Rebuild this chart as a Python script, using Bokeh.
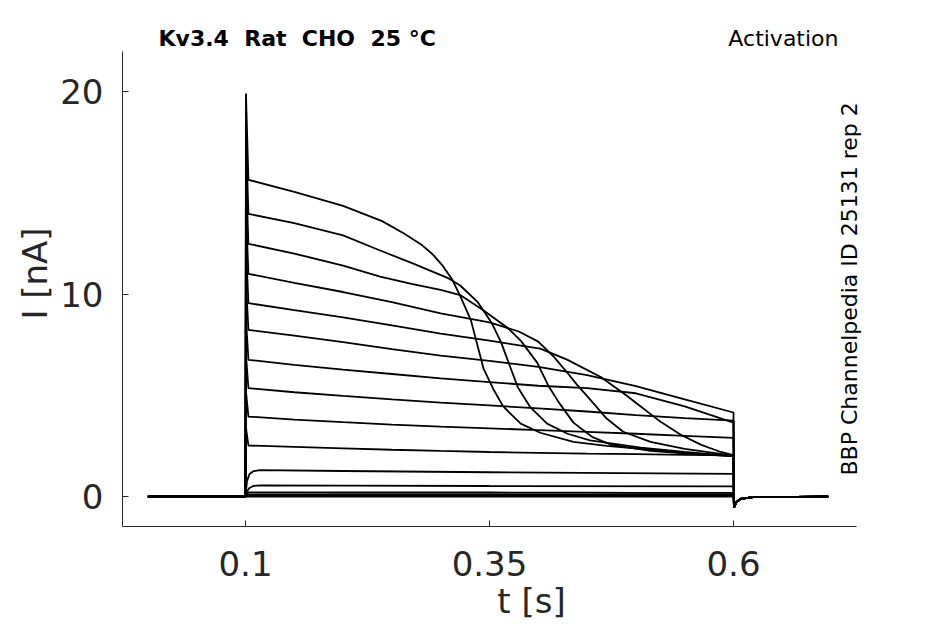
from bokeh.plotting import figure
from bokeh.models import Label, FixedTicker, Range1d
from bokeh.embed import file_html
from bokeh.resources import INLINE

# ---------------- data ----------------
x_ticks = [0.1, 0.35, 0.6]
x_tick_labels = ["0.1", "0.35", "0.6"]
y_ticks = [0, 10, 20]
y_tick_labels = ["0", "10", "20"]

title_left = "Kv3.4\u00a0 Rat\u00a0 CHO\u00a0 25 \u00b0C"
title_right = "Activation"
side_note = "BBP Channelpedia ID 25131 rep 2"
x_label = "t [s]"
y_label = "I [nA]"

t_hold = [0.0, 0.1]
i_hold = [0.0, 0.0]
t_spike = 0.1005
t_tail = [0.6005, 0.6025, 0.607, 0.62, 0.697]
i_tail = [-0.55, -0.3, -0.12, -0.03, 0.0]

t_g = [0.103, 0.15, 0.2, 0.25, 0.3, 0.35, 0.4, 0.45, 0.5, 0.55, 0.6]

# near-zero sweeps
i_z1 = [0.0, 0.0, 0.0, 0.0, 0.0, 0.0, 0.0, 0.0, 0.0, 0.0, 0.0]
i_z2 = [0.04, 0.04, 0.04, 0.04, 0.04, 0.04, 0.04, 0.04, 0.04, 0.04, 0.04]
i_z3 = [0.1, 0.1, 0.1, 0.1, 0.1, 0.1, 0.1, 0.1, 0.1, 0.1, 0.1]
i_z4 = [0.21, 0.21, 0.2, 0.2, 0.2, 0.2, 0.19, 0.19, 0.18, 0.18, 0.18]

# small sweeps with slow rise
t_r1 = [0.1015, 0.104, 0.108, 0.115, 0.2, 0.35, 0.6]
i_r1 = [0.25, 0.42, 0.52, 0.55, 0.54, 0.52, 0.5]
t_r2 = [0.1015, 0.104, 0.108, 0.115, 0.2, 0.35, 0.6]
i_r2 = [0.75, 1.1, 1.25, 1.3, 1.26, 1.2, 1.12]

# non-inactivating (slowly decaying) sweeps
i_g1 = [2.52, 2.45, 2.38, 2.31, 2.25, 2.2, 2.16, 2.12, 2.09, 2.06, 2.03]
i_g2 = [3.95, 3.8, 3.67, 3.55, 3.45, 3.37, 3.28, 3.19, 3.1, 3.0, 2.9]
i_g3 = [5.35, 5.15, 4.97, 4.8, 4.64, 4.5, 4.35, 4.2, 4.02, 3.87, 3.75]
i_g4 = [6.75, 6.5, 6.27, 6.05, 5.83, 5.65, 5.47, 5.35, 5.1, 4.45, 3.65]
i_g5 = [8.23, 7.95, 7.62, 7.28, 6.96, 6.7, 6.4, 6.0, 5.45, 4.8, 4.15]

# inactivating sweeps
t_s5 = [0.103, 0.15, 0.2, 0.25, 0.3, 0.35, 0.402, 0.43, 0.464, 0.49, 0.505, 0.525, 0.546, 0.567, 0.587, 0.6]
i_s5 = [9.55, 9.2, 8.85, 8.45, 8.05, 7.7, 7.3, 6.75, 5.9, 5.0, 4.45, 3.7, 3.05, 2.55, 2.2, 2.05]
t_s4 = [0.103, 0.15, 0.2, 0.25, 0.3, 0.35, 0.38, 0.4, 0.416, 0.43, 0.44, 0.453, 0.47, 0.487, 0.515, 0.55, 0.6]
i_s4 = [11.0, 10.55, 10.1, 9.6, 9.05, 8.6, 8.15, 7.65, 6.9, 6.1, 5.5, 4.8, 3.85, 3.2, 2.7, 2.35, 2.02]
t_s3 = [0.103, 0.15, 0.2, 0.238, 0.27, 0.3, 0.32, 0.344, 0.368, 0.382, 0.399, 0.41, 0.421, 0.436, 0.455, 0.475, 0.515, 0.56, 0.6]
i_s3 = [12.48, 12.0, 11.4, 10.86, 10.5, 10.2, 9.95, 9.19, 8.35, 7.7, 6.6, 5.5, 4.65, 3.65, 2.95, 2.55, 2.25, 2.1, 2.0]
t_s2 = [0.103, 0.15, 0.2, 0.238, 0.272, 0.307, 0.32, 0.338, 0.352, 0.362, 0.372, 0.379, 0.392, 0.409, 0.43, 0.453, 0.505, 0.55, 0.6]
i_s2 = [13.96, 13.5, 12.9, 12.15, 11.5, 10.8, 10.42, 9.6, 8.6, 7.6, 6.3, 5.4, 4.4, 3.6, 3.1, 2.77, 2.42, 2.2, 2.0]
t_s1 = [0.103, 0.15, 0.2, 0.24, 0.262, 0.28, 0.292, 0.302, 0.312, 0.321, 0.331, 0.344, 0.354, 0.364, 0.382, 0.402, 0.436, 0.47, 0.505, 0.55, 0.6]
i_s1 = [15.64, 15.05, 14.35, 13.6, 13.0, 12.45, 11.95, 11.4, 10.7, 9.8, 8.7, 6.3, 5.3, 4.45, 3.6, 3.15, 2.7, 2.5, 2.35, 2.15, 2.0]

# spike peaks at step onset (None = no spike)
sweeps = [
    (None, t_g, i_z1), (None, t_g, i_z2), (None, t_g, i_z3), (None, t_g, i_z4),
    (None, t_r1, i_r1), (None, t_r2, i_r2),
    (3.4, t_g, i_g1), (5.2, t_g, i_g2), (7.0, t_g, i_g3), (8.8, t_g, i_g4), (10.6, t_g, i_g5),
    (12.4, t_s5, i_s5), (14.2, t_s4, i_s4), (16.0, t_s3, i_s3), (17.8, t_s2, i_s2), (19.9, t_s1, i_s1),
]

# axis extents (spines) and visible area
x_axis_bounds = (-0.026, 0.726)
y_axis_bounds = (-1.48, 22.0)
x_view = (-0.026, 0.8121)
y_view = (-1.48, 23.508)

xs, ys = [], []
for peak, tt, ii in sweeps:
    x = list(t_hold)
    y = list(i_hold)
    if peak is not None:
        x.append(t_spike)
        y.append(peak)
    x += tt + t_tail
    y += ii + i_tail
    xs.append(x)
    ys.append(y)

# ---------------- figure ----------------
FONT = "DejaVu Sans"
AX = "#262626"

p = figure(width=945, height=624, output_backend="svg", toolbar_location=None,
           x_range=Range1d(*x_view), y_range=Range1d(*y_view),
           min_border_left=122, min_border_right=5, min_border_top=20, min_border_bottom=98,
           title=None)
p.outline_line_color = None
p.xgrid.grid_line_color = None
p.ygrid.grid_line_color = None
p.background_fill_color = "white"

p.multi_line(xs=xs, ys=ys, line_color="black", line_width=1.8)

for ax in (p.xaxis[0], p.yaxis[0]):
    ax.axis_line_color = AX
    ax.axis_line_width = 1
    ax.major_tick_line_color = AX
    ax.major_tick_in = 6
    ax.major_tick_out = 0
    ax.minor_tick_line_color = None
    ax.major_label_text_font = FONT
    ax.major_label_text_font_size = "34px"
    ax.major_label_text_color = AX
    ax.axis_label_text_font = FONT
    ax.axis_label_text_font_size = "34px"
    ax.axis_label_text_font_style = "normal"
    ax.axis_label_text_color = AX

p.xaxis.bounds = x_axis_bounds
p.yaxis.bounds = y_axis_bounds
p.xaxis.ticker = FixedTicker(ticks=x_ticks)
p.xaxis.major_label_overrides = dict(zip(x_ticks, x_tick_labels))
p.yaxis.ticker = FixedTicker(ticks=y_ticks)
p.yaxis.major_label_overrides = dict(zip(y_ticks, y_tick_labels))
p.xaxis.axis_label = x_label
p.yaxis.axis_label = y_label
p.xaxis.major_label_standoff = 24
p.xaxis.axis_label_standoff = 2
p.yaxis.major_label_standoff = 19
p.yaxis.axis_label_standoff = 2

p.add_layout(Label(x=0.0109, y=22.61, text=title_left, text_font=FONT, text_font_size="22px",
                   text_font_style="bold", text_color="black", text_baseline="alphabetic",
                   text_align="left"))
p.add_layout(Label(x=0.7076, y=22.61, text=title_right, text_font=FONT, text_font_size="22px",
                   text_color="black", text_baseline="alphabetic", text_align="right"))
p.add_layout(Label(x=0.7188, y=1.04, text=side_note, text_font=FONT, text_font_size="22px",
                   text_color="black", text_baseline="alphabetic", text_align="left",
                   angle=1.5707963))

open("out.html", "w").write(file_html(p, INLINE))
